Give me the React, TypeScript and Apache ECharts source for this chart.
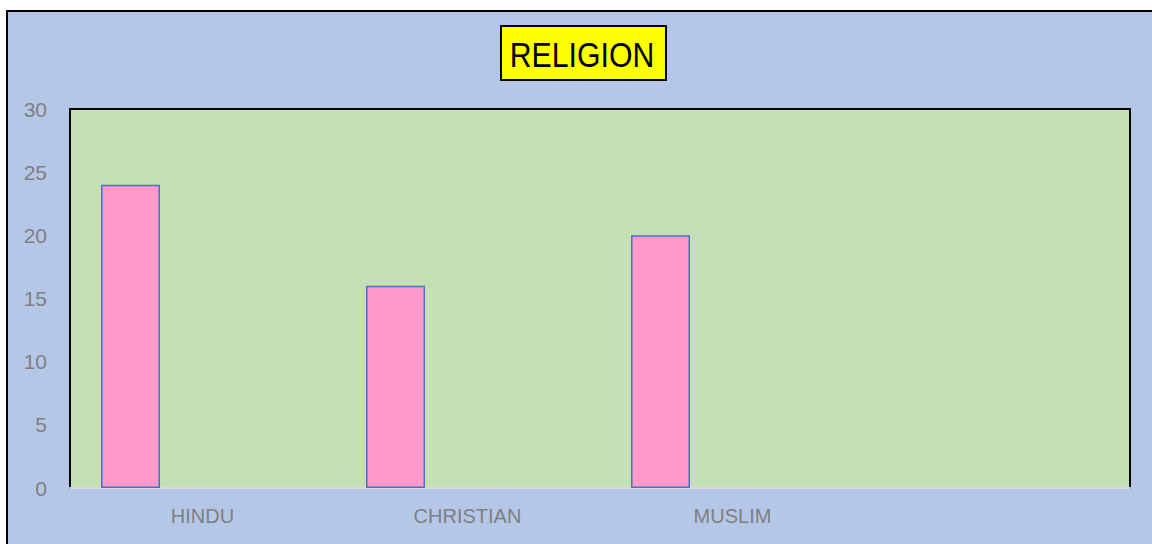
import React, { useEffect, useRef } from "react";
import * as echarts from "echarts";

const categories = ["HINDU", "CHRISTIAN", "MUSLIM", ""];
const religionValues = [24, 16, 20, null];
const emptySeries = [null, null, null, null];
const yTicks = { min: 0, max: 30, interval: 5 };
const titleText = "RELIGION";

const SANS = '"Liberation Sans", Arial, sans-serif';

export default function App() {
  const ref = useRef<HTMLDivElement>(null);
  useEffect(() => {
    if (!ref.current) return;
    const chart = echarts.init(ref.current, null, { renderer: "svg" });
    chart.setOption({
      animation: false,
      backgroundColor: "#ffffff",
      graphic: [
        {
          type: "rect",
          z: -10,
          silent: true,
          shape: { x: 7, y: 11, width: 1160, height: 560 },
          style: { fill: "#B4C7E7", stroke: "#000000", lineWidth: 2 },
        },
        {
          type: "rect",
          z: 10,
          shape: { x: 501, y: 26, width: 165, height: 54 },
          style: { fill: "#FFFF00", stroke: "#000000", lineWidth: 2 },
        },
        {
          type: "text",
          z: 11,
          x: 582,
          y: 55,
          scaleX: 0.84,
          style: {
            text: titleText,
            fill: "#000000",
            font: "36px " + SANS,
            align: "center",
            verticalAlign: "middle",
          },
        },
      ],
      grid: {
        left: 70,
        top: 109,
        width: 1060,
        height: 379,
        show: true,
        backgroundColor: "#C5E0B4",
        borderColor: "#000000",
        borderWidth: 2,
        containLabel: false,
      },
      xAxis: {
        type: "category",
        data: categories,
        axisTick: { show: false },
        axisLine: { show: true, lineStyle: { color: "#D9D9D9", width: 2 } },
        axisLabel: {
          color: "#7F7F7F",
          fontSize: 20,
          fontFamily: SANS,
          margin: 18,
        },
        splitLine: { show: false },
      },
      yAxis: {
        type: "value",
        min: yTicks.min,
        max: yTicks.max,
        interval: yTicks.interval,
        axisLine: { show: false },
        axisTick: { show: false },
        splitLine: { show: false },
        axisLabel: {
          color: "#7F7F7F",
          fontSize: 21,
          fontFamily: SANS,
          margin: 23,
        },
      },
      series: [
        {
          type: "bar",
          data: religionValues,
          barWidth: 59,
          barGap: "144%",
          itemStyle: { color: "#FF99CC", borderColor: "#4472C4", borderWidth: 1.5 },
        },
        {
          type: "bar",
          data: emptySeries,
          barWidth: 59,
          itemStyle: { color: "#FF99CC" },
        },
      ],
    });
    return () => chart.dispose();
  }, []);
  return (
    <div
      ref={ref}
      style={{ position: "fixed", left: 0, top: 0, width: 1152, height: 544 }}
    />
  );
}
